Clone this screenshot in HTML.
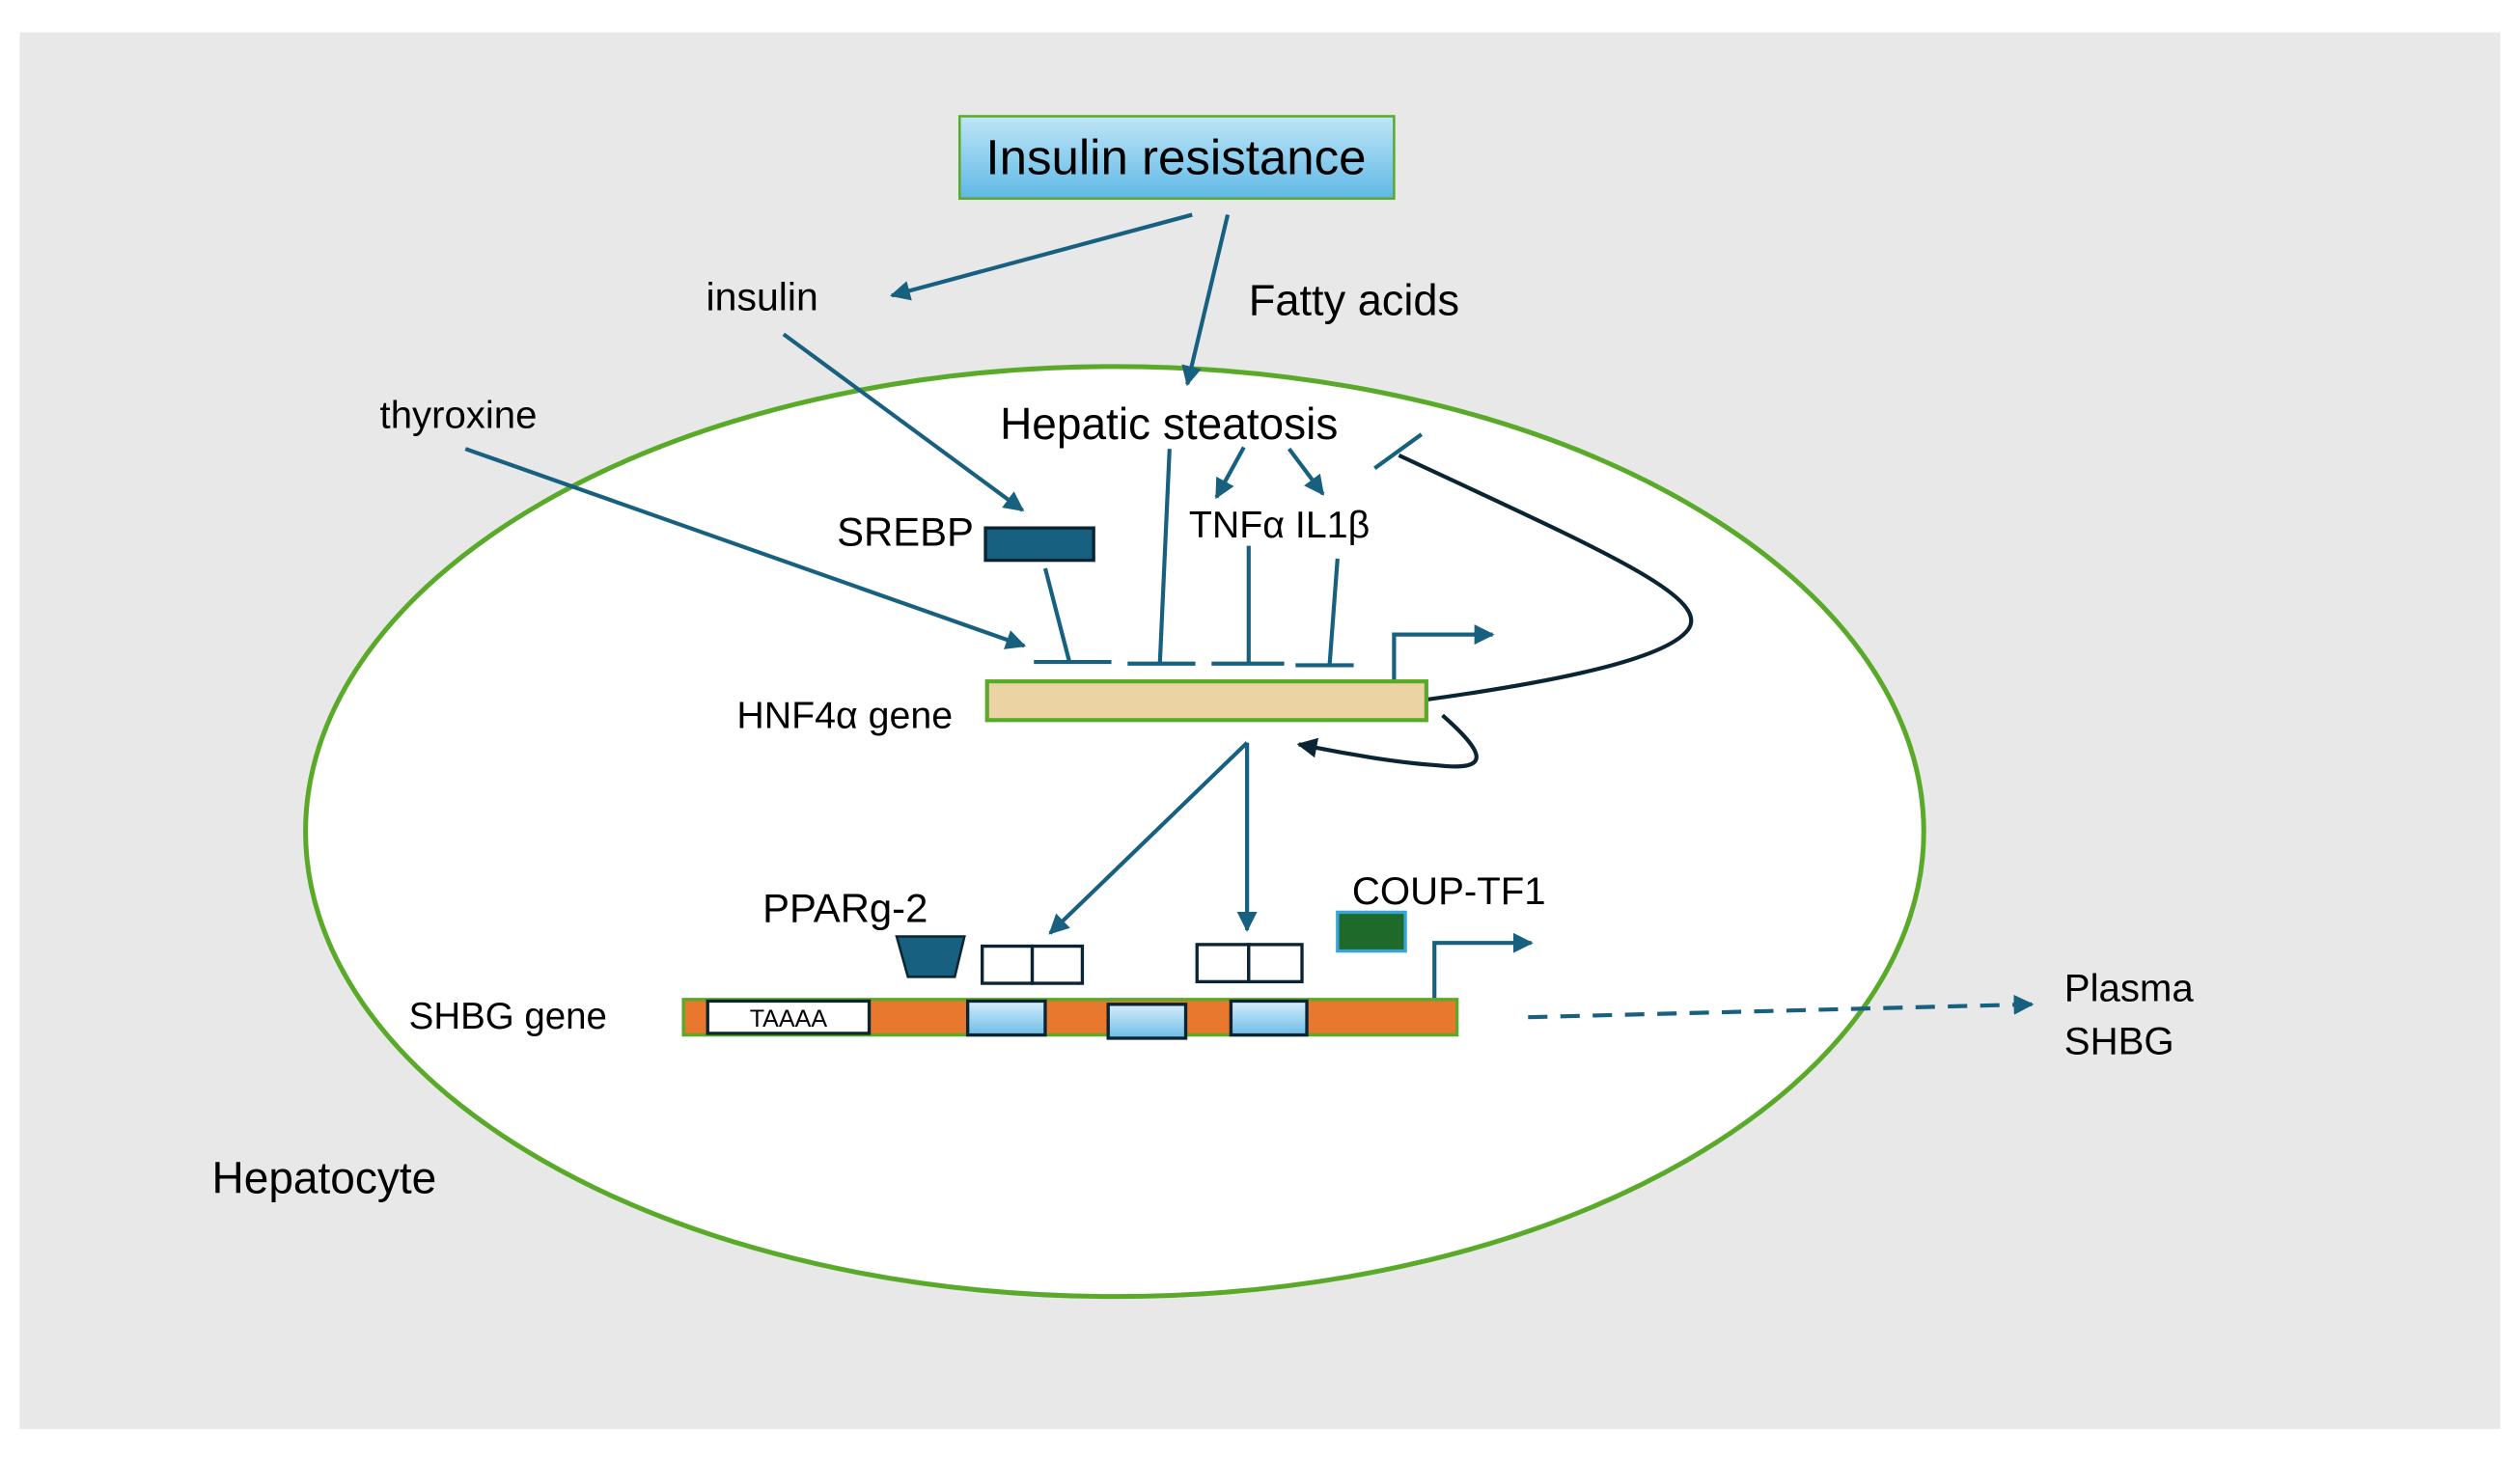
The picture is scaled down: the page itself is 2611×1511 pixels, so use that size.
<!DOCTYPE html>
<html><head><meta charset="utf-8"><style>
html,body{margin:0;padding:0;background:#fff}
svg{display:block}
text{font-family:"Liberation Sans",sans-serif;fill:#000}
</style></head><body>
<svg width="2611" height="1511" viewBox="0 0 1560 903" xmlns="http://www.w3.org/2000/svg">
<defs>
<linearGradient id="ir" x1="0" y1="0" x2="0" y2="1"><stop offset="0" stop-color="#bfe6f7"/><stop offset="1" stop-color="#5fb8e6"/></linearGradient>
<linearGradient id="bb" x1="0" y1="0" x2="0" y2="1"><stop offset="0" stop-color="#d6eefb"/><stop offset="1" stop-color="#6cbde6"/></linearGradient>
<marker id="a" viewBox="0 0 10 10" refX="9" refY="5" markerWidth="5" markerHeight="5" orient="auto"><path d="M0,0L10,5L0,10z" fill="#17607f"/></marker>
<marker id="d" viewBox="0 0 10 10" refX="9" refY="5" markerWidth="5" markerHeight="5" orient="auto"><path d="M0,0L10,5L0,10z" fill="#0b2433"/></marker>
</defs>
<rect x="12" y="20" width="1536" height="865" fill="#e8e8e8"/>
<ellipse cx="690" cy="515" rx="501" ry="288" fill="#fff" stroke="#5aaa2a" stroke-width="3"/>
<rect x="594" y="72" width="269" height="51" fill="url(#ir)" stroke="#5aaa2a" stroke-width="1.5"/>
<text x="728" y="108" font-size="30.5" text-anchor="middle">Insulin resistance</text>
<g stroke="#17607f" stroke-width="2.5" fill="none">
<line x1="738" y1="133" x2="552" y2="183" marker-end="url(#a)"/>
<line x1="760" y1="133" x2="735" y2="238" marker-end="url(#a)"/>
<line x1="485" y1="207" x2="633" y2="316" marker-end="url(#a)"/>
<line x1="288" y1="278" x2="634" y2="400" marker-end="url(#a)"/>
<line x1="770" y1="277" x2="753" y2="308" marker-end="url(#a)"/>
<line x1="798" y1="278" x2="819" y2="306" marker-end="url(#a)"/>
<line x1="647" y1="352" x2="662" y2="410"/><line x1="640" y1="410" x2="688" y2="410"/>
<line x1="724" y1="278" x2="718" y2="411"/><line x1="698" y1="411" x2="740" y2="411"/>
<line x1="773" y1="338" x2="773" y2="411"/><line x1="750" y1="411" x2="795" y2="411"/>
<line x1="828" y1="346" x2="823" y2="413"/><line x1="802" y1="412" x2="838" y2="412"/>
<line x1="851" y1="290" x2="880" y2="269"/>
<polyline points="863,422 863,393 924,393" marker-end="url(#a)"/>
<polyline points="888,619 888,584 948,584" marker-end="url(#a)"/>
<line x1="772" y1="460" x2="650" y2="578" marker-end="url(#a)"/>
<line x1="772" y1="460" x2="772" y2="576" marker-end="url(#a)"/>
<line x1="946" y1="630" x2="1258" y2="622" stroke-dasharray="12,8" marker-end="url(#a)"/>
</g>
<g stroke="#0b2433" stroke-width="2.5" fill="none">
<path d="M866,282 C990,340 1060,370 1045,390 C1030,410 950,425 855,437"/>
<path d="M893,443 C918,465 925,478 890,474 C860,472 830,466 804,461" marker-end="url(#d)"/>
</g>
<rect x="611" y="422" width="272" height="24" fill="#ecd3a3" stroke="#5aaa2a" stroke-width="2.5"/>
<rect x="610" y="327" width="67" height="20" fill="#17607f" stroke="#0b2433" stroke-width="2"/>
<rect x="423" y="619" width="479" height="22" fill="#e8782e" stroke="#5aaa2a" stroke-width="2"/>
<rect x="438" y="620" width="100" height="20" fill="#fff" stroke="#0b2433" stroke-width="2"/>
<text x="488" y="636" font-size="15" text-anchor="middle">TAAAA</text>
<rect x="599" y="620" width="48" height="21" fill="url(#bb)" stroke="#0b2433" stroke-width="2"/>
<rect x="686" y="622" width="48" height="21" fill="url(#bb)" stroke="#0b2433" stroke-width="2"/>
<rect x="762" y="620" width="47" height="21" fill="url(#bb)" stroke="#0b2433" stroke-width="2"/>
<g fill="#fff" stroke="#0b2433" stroke-width="2">
<rect x="608" y="586" width="31" height="23"/><rect x="639" y="586" width="31" height="23"/>
<rect x="741" y="585" width="32" height="23"/><rect x="773" y="585" width="33" height="23"/>
</g>
<path d="M555,580 L597,580 L591,605 L562,605 Z" fill="#17607f" stroke="#0b2433" stroke-width="1.5"/>
<rect x="828" y="565" width="42" height="24" fill="#1e6a2a" stroke="#3aa3d8" stroke-width="2"/>
<text x="437" y="192" font-size="24.5">insulin</text>
<text x="773" y="195" font-size="27">Fatty acids</text>
<text x="235" y="265" font-size="24">thyroxine</text>
<text x="619" y="272" font-size="27.5">Hepatic steatosis</text>
<text x="518" y="338" font-size="25">SREBP</text>
<text x="736" y="333" font-size="23.5">TNFα IL1β</text>
<text x="456" y="451" font-size="23.5">HNF4α gene</text>
<text x="472" y="571" font-size="25">PPARg-2</text>
<text x="837" y="560" font-size="24">COUP-TF1</text>
<text x="253" y="637" font-size="23">SHBG gene</text>
<text x="1278" y="620" font-size="24">Plasma</text>
<text x="1278" y="653" font-size="24">SHBG</text>
<text x="131" y="739" font-size="27.5">Hepatocyte</text>
</svg>
</body></html>
